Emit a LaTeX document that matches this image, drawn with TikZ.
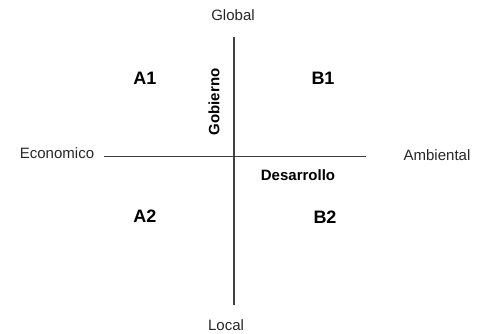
\documentclass[tikz,border=0pt]{standalone}
\usepackage{fontspec}
\setmainfont{Liberation Sans}
\begin{document}
\begin{tikzpicture}[x=1pt,y=-1pt,
  axis/.style={draw=black!75,line width=1.3pt},
  plain/.style={font=\fontsize{15}{17}\selectfont,text=black!85,inner sep=0pt},
  quad/.style={font=\fontsize{18}{20}\selectfont\bfseries,inner sep=0pt},
  axlabel/.style={font=\fontsize{15}{17}\selectfont\bfseries,inner sep=0pt}]
\useasboundingbox (0,0) rectangle (478,333);
\node[plain] (global) at (233,15) {Global};
\node[plain] (local) at (226,325) {Local};
\node[plain] (eco) at (57,153) {Economico};
\node[plain] (amb) at (437,155) {Ambiental};
\coordinate (top) at (234,37);
\coordinate (bot) at (234,305);
\coordinate (left) at (104,156.5);
\coordinate (right) at (366,156.5);
\draw[axis] (top) -- (bot);
\draw[axis] (left) -- (right);
\node[quad] (a1) at (145,78) {A1};
\node[quad] (b1) at (323,78) {B1};
\node[quad] (a2) at (145,216) {A2};
\node[quad] (b2) at (325,217) {B2};
\node[axlabel,rotate=90] (gob) at (214,102) {Gobierno};
\node[axlabel] (des) at (298,175) {Desarrollo};
\end{tikzpicture}
\end{document}
